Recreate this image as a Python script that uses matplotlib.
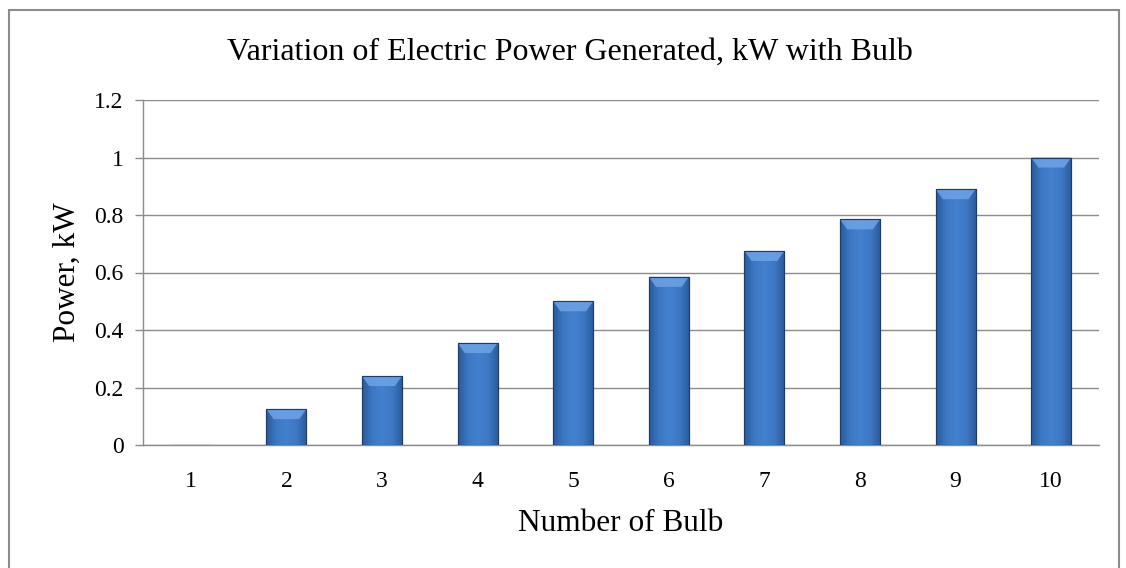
import numpy as np
import matplotlib
matplotlib.use("Agg")
import matplotlib.pyplot as plt
from matplotlib.patches import Rectangle, Polygon
from matplotlib.colors import LinearSegmentedColormap

categories = ["1", "2", "3", "4", "5", "6", "7", "8", "9", "10"]
power_kw = [0.0, 0.125, 0.24, 0.355, 0.5, 0.585, 0.675, 0.785, 0.89, 1.0]
y_ticks = [0, 0.2, 0.4, 0.6, 0.8, 1, 1.2]
y_tick_labels = ["0", "0.2", "0.4", "0.6", "0.8", "1", "1.2"]

plt.rcParams['font.family'] = ['Liberation Serif', 'DejaVu Serif']

fig = plt.figure(figsize=(11.26, 5.68), dpi=100)
fig.patches.append(Rectangle((9/1126, -0.01), (1119-9)/1126, (568-10)/568 + 0.01,
                             transform=fig.transFigure, fill=False,
                             edgecolor='#8c8c8c', linewidth=1.5))
ax = fig.add_axes([143/1126, 123/568, (1099-143)/1126, (445-100)/568])

x = np.arange(len(categories))
width = 0.42
cmap = LinearSegmentedColormap.from_list("bar", ["#2a5a9a", "#3d78c4", "#4380ce", "#3d78c4", "#2a5a9a"])
grad = np.linspace(0, 1, 64).reshape(1, -1)

bars = ax.bar(x, power_kw, width=width, color='#3d78c4', edgecolor='#1e3c66',
              linewidth=0.8, zorder=3)
for b, v in zip(bars, power_kw):
    if v <= 0:
        continue
    x0 = b.get_x()
    w = b.get_width()
    # shadow
    for k, a in enumerate([0.10, 0.07, 0.04]):
        ax.add_patch(Rectangle((x0 - 0.01 * k, -0.004 - 0.004 * k), w + 0.02 * k, 0.008,
                               facecolor='#000000', alpha=a, edgecolor='none', zorder=2))
    im = ax.imshow(grad, cmap=cmap, aspect='auto', extent=(x0, x0 + w, 0, v),
                   zorder=3.5, interpolation='bicubic')
    im.set_clip_path(b)
    # beveled top
    bev = min(0.035, v * 0.3)
    bx = w * 0.18
    ax.add_patch(Polygon([(x0, v), (x0 + w, v), (x0 + w - bx, v - bev), (x0 + bx, v - bev)],
                         closed=True, facecolor='#6fa3e6', edgecolor='none', alpha=0.85, zorder=3.6))
    ax.add_patch(Rectangle((x0, 0), w, v, fill=False, edgecolor='#1e3c66',
                           linewidth=0.8, zorder=3.7))

ax.set_xlim(-0.5, len(categories) - 0.5)
ax.set_ylim(0, 1.2)
ax.set_yticks(y_ticks)
ax.set_yticklabels(y_tick_labels)
ax.set_xticks(x)
ax.set_xticklabels(categories)
ax.tick_params(axis='x', length=0, labelsize=17, pad=19, colors='black')
ax.tick_params(axis='y', length=6, width=1, color='#8c8c8c', labelsize=17, pad=8)
ax.yaxis.grid(True, color='#8c8c8c', linewidth=1)
ax.set_axisbelow(True)
for s in ['top', 'right']:
    ax.spines[s].set_visible(False)
ax.spines['left'].set_color('#8c8c8c')
ax.spines['bottom'].set_color('#8c8c8c')
ax.spines['left'].set_linewidth(1)
ax.spines['bottom'].set_linewidth(1)

ax.set_xlabel("Number of Bulb", fontsize=22.5, labelpad=12)
ax.set_ylabel("Power, kW", fontsize=22.5, labelpad=9)
fig.text(570 / 1126, 1 - 60 / 568, "Variation of Electric Power Generated, kW with Bulb",
         ha='center', va='baseline', fontsize=23)

fig.savefig("out.png", dpi=100)
